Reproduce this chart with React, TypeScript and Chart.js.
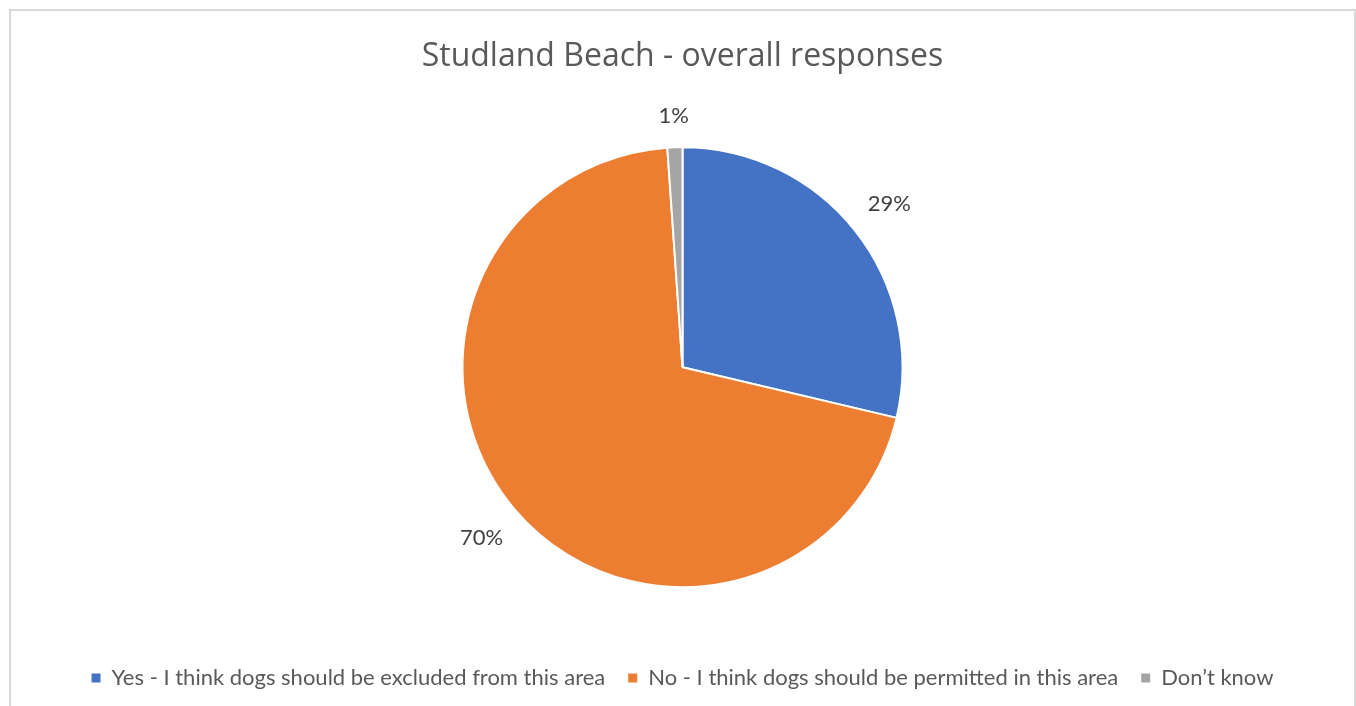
import React, { useEffect, useRef } from "react";
import { Chart, registerables } from "chart.js";

Chart.register(...registerables);

const title = "Studland Beach - overall responses";
const categories = [
  "Yes - I think dogs should be excluded from this area",
  "No - I think dogs should be permitted in this area",
  "Don\u2019t know",
];
const values = [28.7, 70.2, 1.1];
const colors = ["#4472C4", "#ED7D31", "#A5A5A5"];

const labelPlugin = {
  id: "outsideLabels",
  afterDatasetsDraw(chart: any) {
    const ctx = chart.ctx;
    const meta = chart.getDatasetMeta(0);
    const data = chart.data.datasets[0].data as number[];
    const total = data.reduce((a, b) => a + b, 0);
    ctx.save();
    ctx.font = "22px Lato";
    ctx.fillStyle = "#404040";
    ctx.textAlign = "center";
    ctx.textBaseline = "middle";
    meta.data.forEach((arc: any, i: number) => {
      const p = arc.getProps(["x", "y", "startAngle", "endAngle", "outerRadius"], true);
      const mid = (p.startAngle + p.endAngle) / 2;
      const text = Math.round((data[i] / total) * 100) + "%";
      const w = ctx.measureText(text).width;
      const h = 22;
      const c = Math.cos(mid);
      const s = Math.sin(mid);
      const ext = Math.abs(c) * w / 2 + Math.abs(s) * h / 2;
      const r = p.outerRadius + 20 + ext;
      ctx.fillText(text, p.x + c * r, p.y + s * r);
    });
    ctx.restore();
  },
};

export default function App() {
  const ref = useRef<HTMLCanvasElement | null>(null);
  useEffect(() => {
    if (!ref.current) return;
    const defaultGen = (Chart as any).overrides.pie.plugins.legend.labels.generateLabels;
    const chart = new Chart(ref.current, {
      type: "pie",
      data: {
        labels: categories,
        datasets: [
          {
            data: values,
            backgroundColor: colors,
            borderColor: "#ffffff",
            borderWidth: 2,
            radius: 220,
          } as any,
        ],
      },
      options: {
        responsive: false,
        animation: false,
        devicePixelRatio: 1,
        layout: { padding: 0 },
        plugins: {
          title: {
            display: true,
            text: title,
            color: "#595959",
            font: { family: "'Open Sans'", size: 32, weight: "normal" as any, lineHeight: 1.2 },
            padding: { top: 27, bottom: 14 },
          },
          legend: {
            display: true,
            position: "bottom",
            labels: {
              boxWidth: 9,
              boxHeight: 9,
              padding: 23,
              color: "#595959",
              font: { family: "Lato", size: 22 },
              generateLabels: (c: any) =>
                defaultGen(c).map((l: any) => ({ ...l, lineWidth: 0, strokeStyle: l.fillStyle })),
            },
          },
          tooltip: { enabled: false },
        },
      },
      plugins: [labelPlugin],
    });
    return () => chart.destroy();
  }, []);
  return (
    <div
      style={{
        position: "fixed",
        left: 9,
        top: 9,
        width: 1347,
        height: 697,
        boxSizing: "border-box",
        borderTop: "2px solid #d9d9d9",
        borderLeft: "2px solid #d9d9d9",
        borderRight: "2px solid #d9d9d9",
        overflow: "hidden",
        background: "#fff",
      }}
    >
      <canvas ref={ref} width={1343} height={688} style={{ display: "block" }} />
    </div>
  );
}
